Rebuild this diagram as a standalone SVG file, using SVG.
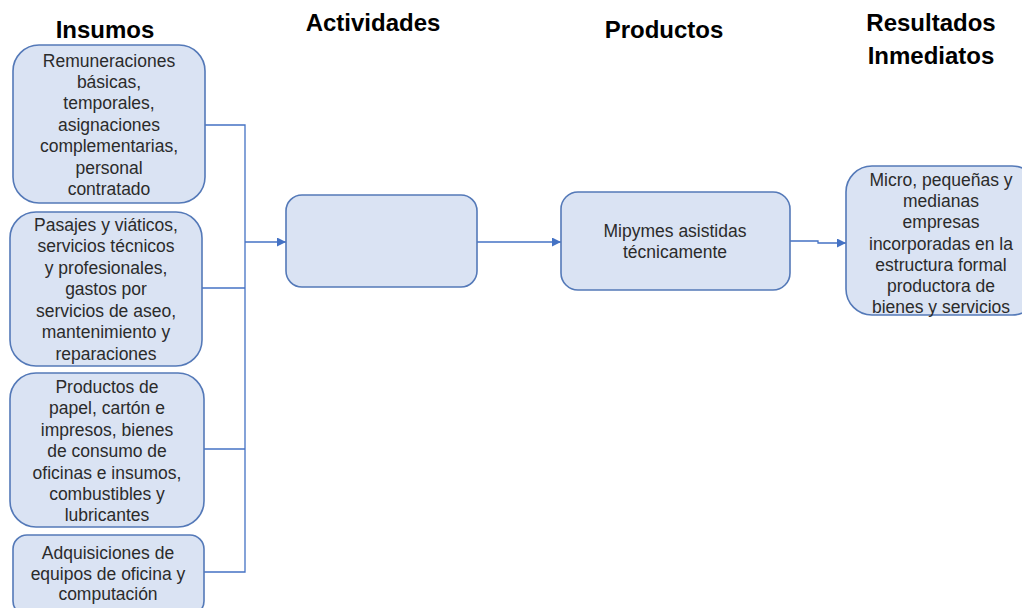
<svg xmlns="http://www.w3.org/2000/svg" width="1022" height="608" viewBox="0 0 1022 608">
<defs>
<style>
.h{font-family:"Liberation Sans",Arial,sans-serif;font-weight:bold;font-size:24px;fill:#000;text-anchor:middle}
.t{font-family:"Liberation Sans",Arial,sans-serif;font-size:17.5px;fill:#2b2b2b;text-anchor:middle}
.box{fill:#dae3f3;stroke:#5479b8;stroke-width:1.6}
.c{fill:none;stroke:#4472c4;stroke-width:1.3}
</style>
<marker id="arr" viewBox="0 0 10 10" refX="10" refY="5" markerWidth="10" markerHeight="9" markerUnits="userSpaceOnUse" orient="auto">
<path d="M0,0 L10,5 L0,10 z" fill="#4472c4"/>
</marker>
</defs>
<rect width="1022" height="608" fill="#fff"/>
<g id="headings">
<text class="h" x="105" y="38">Insumos</text>
<text class="h" x="373" y="31">Actividades</text>
<text class="h" x="664" y="38">Productos</text>
<text class="h" x="931" y="31">Resultados</text>
<text class="h" x="931" y="64">Inmediatos</text>
</g>
<g id="connectors">
<path class="c" d="M205,125 H245 V572 H204"/>
<path class="c" d="M202,288 H245"/>
<path class="c" d="M204,449 H245"/>
<path class="c" d="M245,242 H286" marker-end="url(#arr)" stroke-width="1.6"/>
<path class="c" d="M477,242 H561" marker-end="url(#arr)"/>
<path class="c" d="M790,241 H818 V243 H846" marker-end="url(#arr)"/>
</g>
<g id="n1">
<rect class="box" x="13" y="45" width="192" height="158" rx="26"/>
<text class="t" x="109" y="67">Remuneraciones</text>
<text class="t" x="109" y="88">básicas,</text>
<text class="t" x="109" y="109">temporales,</text>
<text class="t" x="109" y="131">asignaciones</text>
<text class="t" x="109" y="152">complementarias,</text>
<text class="t" x="109" y="174">personal</text>
<text class="t" x="109" y="195">contratado</text>
</g>
<g id="n2">
<rect class="box" x="10" y="212" width="192" height="154" rx="26"/>
<text class="t" x="106" y="231">Pasajes y viáticos,</text>
<text class="t" x="106" y="252">servicios técnicos</text>
<text class="t" x="106" y="274">y profesionales,</text>
<text class="t" x="106" y="295">gastos por</text>
<text class="t" x="106" y="317">servicios de aseo,</text>
<text class="t" x="106" y="338">mantenimiento y</text>
<text class="t" x="106" y="360">reparaciones</text>
</g>
<g id="n3">
<rect class="box" x="10" y="373" width="194" height="154" rx="26"/>
<text class="t" x="107" y="393">Productos de</text>
<text class="t" x="107" y="414">papel, cartón e</text>
<text class="t" x="107" y="436">impresos, bienes</text>
<text class="t" x="107" y="457">de consumo de</text>
<text class="t" x="107" y="479">oficinas e insumos,</text>
<text class="t" x="107" y="500">combustibles y</text>
<text class="t" x="107" y="521">lubricantes</text>
</g>
<g id="n4">
<rect class="box" x="13" y="535" width="191" height="80" rx="14"/>
<text class="t" x="108" y="559">Adquisiciones de</text>
<text class="t" x="108" y="580">equipos de oficina y</text>
<text class="t" x="108" y="600">computación</text>
</g>
<g id="n5">
<rect class="box" x="286" y="195" width="191" height="92" rx="16"/>
</g>
<g id="n6">
<rect class="box" x="561" y="192" width="229" height="98" rx="17"/>
<text class="t" x="675" y="237">Mipymes asistidas</text>
<text class="t" x="675" y="258">técnicamente</text>
</g>
<g id="n7">
<rect class="box" x="846" y="166" width="192" height="149" rx="26"/>
<text class="t" x="941" y="186">Micro, pequeñas y</text>
<text class="t" x="941" y="207">medianas</text>
<text class="t" x="941" y="228">empresas</text>
<text class="t" x="941" y="250">incorporadas en la</text>
<text class="t" x="941" y="271">estructura formal</text>
<text class="t" x="941" y="292">productora de</text>
<text class="t" x="941" y="313">bienes y servicios</text>
</g>
</svg>
